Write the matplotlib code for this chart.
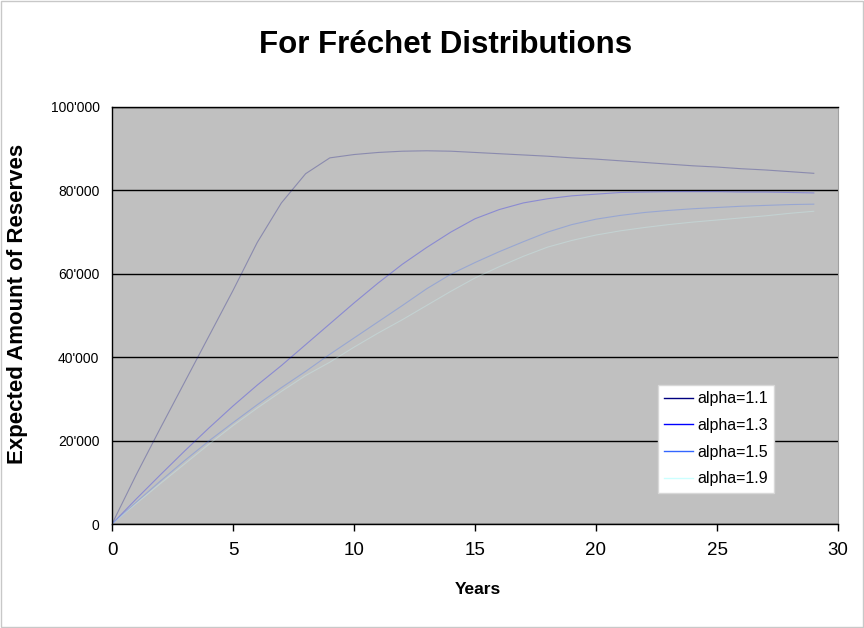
import matplotlib
matplotlib.use("Agg")
import matplotlib.pyplot as plt
from matplotlib.ticker import FuncFormatter, MultipleLocator
from matplotlib.patches import Rectangle

# Expected amount of reserves per year for Frechet distributions
years = list(range(30))

alpha_11 = [0, 11800, 23000, 34000, 45000, 56000, 67500, 77000, 84000, 87800,
            88600, 89100, 89400, 89500, 89400, 89100, 88800, 88500, 88200, 87800,
            87500, 87100, 86700, 86300, 85900, 85600, 85200, 84900, 84500, 84100]
alpha_13 = [0, 6000, 11800, 17500, 23000, 28300, 33300, 38000, 43000, 48000,
            53000, 57800, 62300, 66300, 70000, 73200, 75400, 77000, 78000, 78700,
            79100, 79500, 79600, 79700, 79700, 79700, 79600, 79600, 79500, 79400]
alpha_15 = [0, 5200, 10300, 15200, 19900, 24300, 28600, 32700, 36600, 40700,
            44600, 48500, 52400, 56400, 59900, 62700, 65300, 67700, 70000, 71800,
            73100, 74000, 74700, 75200, 75600, 75900, 76200, 76400, 76600, 76700]
alpha_19 = [0, 4900, 9700, 14400, 19100, 23600, 27800, 31800, 35600, 38800,
            42400, 45800, 49000, 52400, 55800, 59000, 61700, 64200, 66400, 68000,
            69300, 70300, 71100, 71800, 72400, 72900, 73400, 73900, 74500, 75000]

series_labels = ["alpha=1.1", "alpha=1.3", "alpha=1.5", "alpha=1.9"]
series_colors = ["#000080", "#0000FF", "#3366FF", "#CCFFFF"]

plt.rcParams['font.family'] = ['Liberation Sans', 'DejaVu Sans']

fig = plt.figure(figsize=(8.64, 6.28), dpi=100)
fig.patches.append(Rectangle((0.001, 0.001), 0.998, 0.997, transform=fig.transFigure,
                             fill=False, edgecolor='#C8C8C8', linewidth=1))

ax = fig.add_axes([112 / 864, 1 - 524 / 628, 726 / 864, 417 / 628])
ax.set_facecolor('#C0C0C0')

for values, label, color in zip([alpha_11, alpha_13, alpha_15, alpha_19], series_labels, series_colors):
    ax.plot(years, values, color=color, linewidth=0.8, alpha=0.28, label=label)

ax.set_xlim(0, 30)
ax.set_ylim(0, 100000)
ax.xaxis.set_major_locator(MultipleLocator(5))
ax.yaxis.set_major_locator(MultipleLocator(20000))
ax.yaxis.set_major_formatter(FuncFormatter(lambda v, pos: "{:,}".format(int(v)).replace(",", "'")))

ax.yaxis.grid(True, color='black', linewidth=1.0)
ax.tick_params(axis='x', direction='out', length=5, width=1, labelsize=13.5, pad=8)
ax.tick_params(axis='y', length=0, labelsize=10, pad=9)

for side in ['left', 'bottom', 'top']:
    ax.spines[side].set_color('black')
    ax.spines[side].set_linewidth(1.0)
ax.spines['right'].set_color('#A0A0A0')

fig.text(446 / 864, 1 - 45 / 628, "For Fréchet Distributions", ha='center', va='center',
         fontsize=22.5, fontweight='bold')
fig.text(18 / 864, 1 - 304 / 628, "Expected Amount of Reserves", ha='center', va='center',
         rotation=90, fontsize=16, fontweight='bold')
fig.text(478 / 864, 1 - 590 / 628, "Years", ha='center', va='center',
         fontsize=12.5, fontweight='bold')

leg = ax.legend(loc='upper left', bbox_to_anchor=(658 / 864, 1 - 385 / 628),
                bbox_transform=fig.transFigure, fontsize=11.5, fancybox=False,
                framealpha=1, edgecolor='#D8D8D8', handlelength=1.8,
                labelspacing=0.73, borderpad=0.4, handletextpad=0.25, borderaxespad=0)
leg.get_frame().set_linewidth(1.0)
for handle in leg.legend_handles:
    handle.set_alpha(1.0)
    handle.set_linewidth(1.0)

fig.savefig("out.png", dpi=100)
